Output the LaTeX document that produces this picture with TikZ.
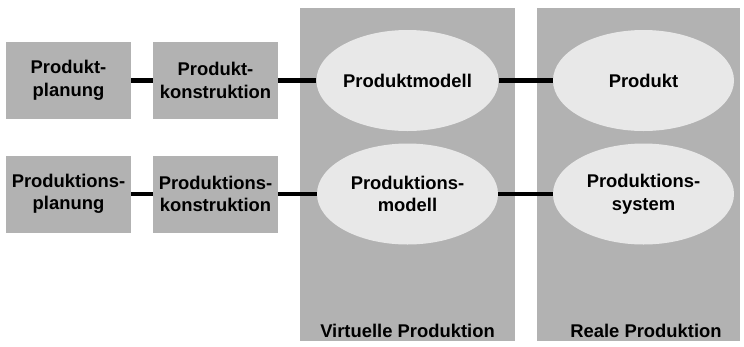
\documentclass[tikz,border=0pt]{standalone}
\usepackage{fontspec}
\setmainfont{Liberation Sans}
\usetikzlibrary{shapes.geometric}
\begin{document}
\begin{tikzpicture}[x=1pt,y=-1pt,
  txt/.style={font=\bfseries\fontsize{18.4}{22.5}\selectfont,align=center,text=black},
  gbox/.style={txt,fill=boxgray,draw=none,minimum width=125pt,minimum height=77pt,inner sep=0pt},
  col/.style={fill=boxgray,draw=none,inner sep=0pt},
  ell/.style={txt,ellipse,fill=ellgray,draw=none,minimum width=181pt,minimum height=101pt,inner sep=0pt},
  link/.style={line width=4.5pt,black}]
\definecolor{boxgray}{HTML}{B2B2B2}
\definecolor{ellgray}{HTML}{E8E8E8}
\useasboundingbox (0,0) rectangle (744,346);
% columns
\node[col,minimum width=215pt,minimum height=333pt] (cv) at (407.5,174.5) {};
\node[col,minimum width=203pt,minimum height=333pt] (cr) at (638.5,174.5) {};
\node[txt] (lv) at (407.5,331) {Virtuelle Produktion};
\node[txt] (lr) at (646,331) {Reale Produktion};
% boxes
\node[gbox] (pp) at (68.5,80.5) {Produkt-\\planung};
\node[gbox] (pk) at (215.5,80.5) {Produkt-\\konstruktion};
\node[gbox] (rp) at (68.5,194) {Produktions-\\planung};
\node[gbox] (rk) at (215.5,194) {Produktions-\\konstruktion};
% ellipses
\node[ell] (pm) at (407.5,80.5) {Produktmodell};
\node[ell] (rm) at (407.5,194) {Produktions-\\modell};
\node[ell] (pr) at (643.5,80.5) {Produkt};
\node[ell] (rs) at (643.5,194) {Produktions-\\system};
% links
\draw[link] (pp) -- (pk);
\draw[link] (pk) -- (pm);
\draw[link] (pm) -- (pr);
\draw[link] (rp) -- (rk);
\draw[link] (rk) -- (rm);
\draw[link] (rm) -- (rs);
\end{tikzpicture}
\end{document}
